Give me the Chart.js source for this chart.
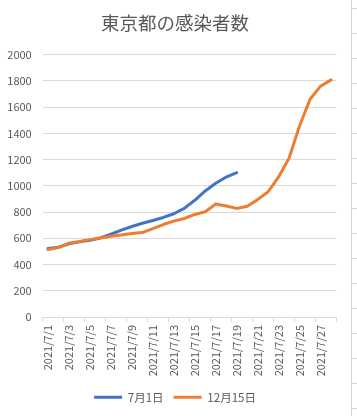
<!DOCTYPE html>
<html>
<head>
<meta charset="utf-8">
<script src="https://cdn.jsdelivr.net/npm/chart.js@4.4.1/dist/chart.umd.min.js"></script>
<style>
html,body{margin:0;padding:0;background:#fff;overflow:hidden;}
#wrap{position:absolute;left:0;top:0;width:349px;height:416px;}
#cells{position:absolute;left:351px;top:0;width:6px;height:416px;border-left:1px solid #d4d4d4;
  background:repeating-linear-gradient(to bottom, transparent 0px, transparent 8px, #d4d4d4 8px, #d4d4d4 9px, transparent 9px, transparent 25px);}
</style>
</head>
<body>
<div id="wrap"><canvas id="c" width="349" height="416"></canvas></div>
<div id="cells"></div>
<script>
const chartTitle = '東京都の感染者数';
const categories = [
  '2021/7/1','2021/7/2','2021/7/3','2021/7/4','2021/7/5','2021/7/6','2021/7/7',
  '2021/7/8','2021/7/9','2021/7/10','2021/7/11','2021/7/12','2021/7/13','2021/7/14',
  '2021/7/15','2021/7/16','2021/7/17','2021/7/18','2021/7/19','2021/7/20','2021/7/21',
  '2021/7/22','2021/7/23','2021/7/24','2021/7/25','2021/7/26','2021/7/27','2021/7/28'
];
const seriesNames = ['7月1日', '12月15日'];
const july1 = [522, 532, 558, 573, 585, 603, 631, 662, 690, 715, 736, 759, 787, 828, 890, 961, 1020, 1067, 1100];
const dec15 = [515, 530, 563, 575, 590, 603, 615, 626, 636, 644, 674, 705, 731, 751, 782, 803, 862, 846, 828, 844, 895, 955, 1068, 1212, 1458, 1660, 1760, 1808];
const yMin = 0, yMax = 2000, yStep = 200;

const FONT = '"Noto Sans CJK JP", "Noto Sans", sans-serif';
const TXT = '#595959';
const GRID = '#d9d9d9';

Chart.defaults.font.family = FONT;
Chart.defaults.color = TXT;

new Chart(document.getElementById('c'), {
  type: 'line',
  data: {
    labels: categories,
    datasets: [
      { label: seriesNames[0], data: july1, borderColor: '#4472C4', backgroundColor: '#4472C4',
        borderWidth: 3, pointRadius: 0, tension: 0, fill: false, order: 1,
        borderCapStyle: 'round', borderJoinStyle: 'round' },
      { label: seriesNames[1], data: dec15, borderColor: '#ED7D31', backgroundColor: '#ED7D31',
        borderWidth: 3, pointRadius: 0, tension: 0, fill: false, order: 0,
        borderCapStyle: 'round', borderJoinStyle: 'round' }
    ]
  },
  options: {
    responsive: false,
    animation: false,
    devicePixelRatio: 1,
    layout: { padding: { left: 7.5, right: 6.5, top: 0, bottom: 3 } },
    plugins: {
      tooltip: { enabled: false },
      title: {
        display: true, text: chartTitle, color: TXT,
        font: { size: 18.5, weight: 'normal', family: FONT },
        padding: { top: 12, bottom: 20.5 }
      },
      legend: {
        position: 'bottom',
        labels: {
          usePointStyle: true, pointStyle: 'line', pointStyleWidth: 28,
          color: TXT, font: { size: 11.5, family: FONT }, padding: 10,
          sort: (a, b) => a.datasetIndex - b.datasetIndex
        }
      }
    },
    scales: {
      x: {
        type: 'category',
        offset: true,
        grid: {
          display: true, offset: true, drawOnChartArea: false, drawTicks: true, tickLength: 5,
          color: (ctx) => (ctx.index === undefined || ctx.index % 2 === 0) ? GRID : 'rgba(0,0,0,0)'
        },
        border: { display: true, color: GRID, width: 1 },
        ticks: {
          autoSkip: false, maxRotation: 90, minRotation: 90, padding: 3, color: TXT,
          font: { size: 11, family: FONT },
          callback: (v, i) => (i % 2 === 0 ? categories[i] : '')
        },
        afterFit: (s) => { s.height = 64.5; }
      },
      y: {
        type: 'linear',
        min: yMin, max: yMax,
        ticks: { stepSize: yStep, padding: 11, color: TXT, font: { size: 11, family: FONT },
                 callback: (v) => String(v) },
        grid: { color: GRID, drawTicks: false },
        border: { display: false },
        afterFit: (s) => { s.width = 35.2; }
      },
      y2: {
        type: 'linear', position: 'right', display: true,
        grid: { display: false, drawTicks: false },
        border: { display: false },
        ticks: { display: false },
        afterFit: (s) => { s.width = 6.2; }
      }
    }
  }
});
</script>
</body>
</html>
